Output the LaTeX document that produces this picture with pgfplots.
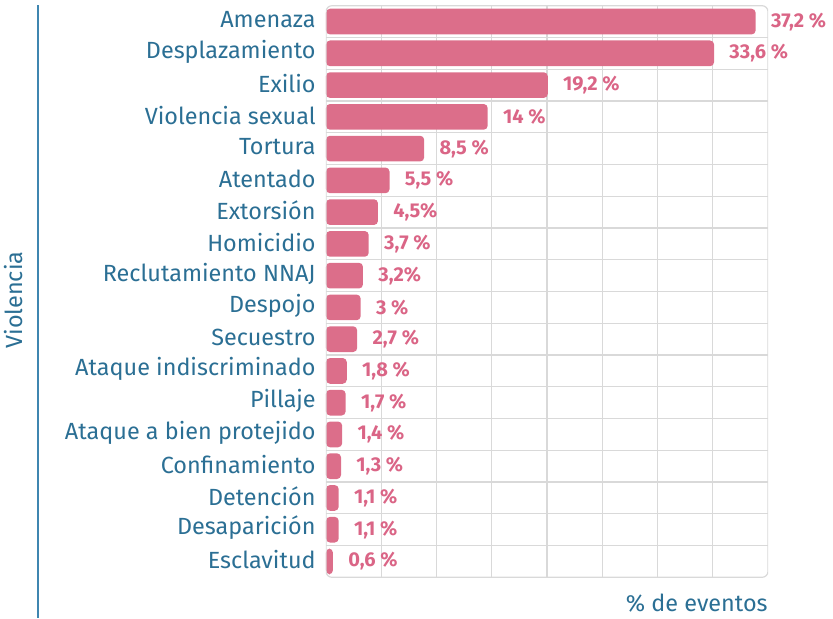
\documentclass[border=0pt]{standalone}
\usepackage{fontspec}
\setmainfont{Fira Sans}
\usepackage{pgfplots}
\pgfplotsset{compat=1.18}
\definecolor{barpink}{HTML}{DC6E8A}
\definecolor{labpink}{HTML}{DA6586}
\definecolor{catblue}{HTML}{2B6F94}
\definecolor{lineblue}{HTML}{3F86B0}
\definecolor{gridgray}{HTML}{D9D9D9}

\begin{document}
\begin{tikzpicture}
\useasboundingbox (-163pt,-20.35pt) rectangle (253.5pt,288.65pt);
\begin{axis}[
    at={(0,0)}, anchor=south west,
    scale only axis, width=221pt, height=285.8pt,
    xbar, bar width=12.85pt, bar shift=0pt,
    xmin=0, xmax=38.27, ymin=-0.5, ymax=17.5, y dir=reverse,
    xtick={4.784,9.568,14.351,19.135,23.919,28.703,33.486},
    xticklabels={},
    ytick={0,...,17},
    yticklabels={Amenaza,Desplazamiento,Exilio,Violencia sexual,Tortura,Atentado,
      Extorsión,Homicidio,Reclutamiento NNAJ,Despojo,Secuestro,Ataque indiscriminado,
      Pillaje,Ataque a bien protejido,Confinamiento,Detención,Desaparición,Esclavitud},
    minor ytick={0.5,1.5,...,16.5},
    xmajorgrids=true, yminorgrids=true,
    grid style={gridgray, line width=0.6pt},
    minor grid style={gridgray, line width=0.6pt},
    major tick length=0pt, minor tick length=0pt,
    axis line style={draw=none},
    yticklabel style={font=\fontsize{11.7}{13}\selectfont, text=catblue, inner sep=0pt, xshift=-5pt, yshift=0.8pt},
    point meta=explicit symbolic,
    nodes near coords,
    nodes near coords style={anchor=west, inner sep=0pt, xshift=7.5pt, text=labpink,
      font=\fontsize{10}{11}\selectfont\bfseries},
]
\addplot[fill=barpink, draw=none, rounded corners=2pt] coordinates {
(37.2,0) [37,2 \%]
(33.6,1) [33,6 \%]
(19.2,2) [19,2 \%]
(14,3) [14 \%]
(8.5,4) [8,5 \%]
(5.5,5) [5,5 \%]
(4.5,6) [4,5\%]
(3.7,7) [3,7 \%]
(3.2,8) [3,2\%]
(3,9) [3 \%]
(2.7,10) [2,7 \%]
(1.8,11) [1,8 \%]
(1.7,12) [1,7 \%]
(1.4,13) [1,4 \%]
(1.3,14) [1,3 \%]
(1.1,15) [1,1 \%]
(1.1,16) [1,1 \%]
(0.6,17) [0,6 \%]
};
\draw[gridgray, line width=0.6pt, rounded corners=3pt] (rel axis cs:0,0) rectangle (rel axis cs:1,1);
\end{axis}
\draw[lineblue, line width=0.75pt] (-144pt,286.15pt) -- (-144pt,-20.35pt);
\node[rotate=90, text=catblue, font=\fontsize{11.7}{13}\selectfont] at (-156pt,138.65pt) {Violencia};
\node[anchor=east, text=catblue, inner sep=0pt, font=\fontsize{11.7}{13}\selectfont] at (221pt,-12.85pt) {\% de eventos};
\end{tikzpicture}
\end{document}
